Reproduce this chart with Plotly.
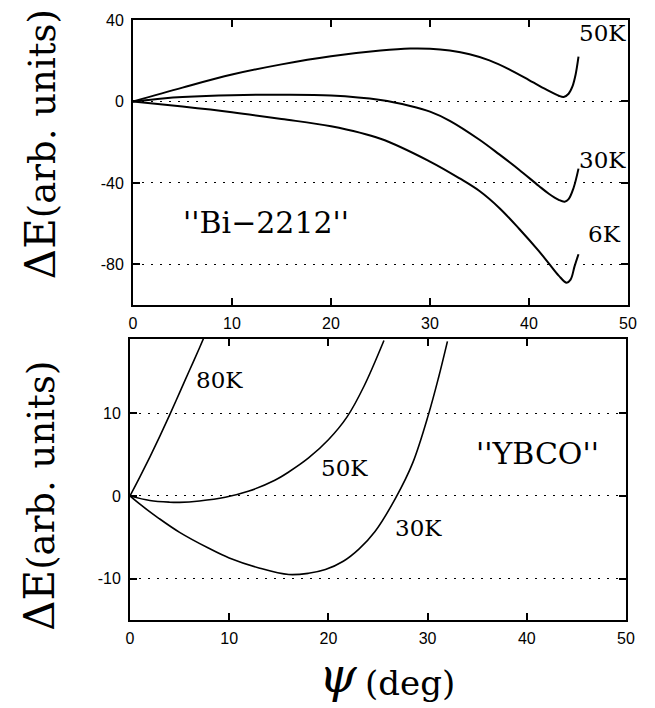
import plotly.graph_objects as go

# ---- Data: top panel ("Bi-2212") ----
bi_50k_x = [0, 5, 10, 15, 20, 25, 28, 30, 32, 34, 36, 38, 40, 41, 42, 43, 43.5, 44, 44.4, 44.7, 45]
bi_50k_y = [0, 6.8, 13.2, 18.2, 22.2, 25, 26, 25.9, 25.0, 23.2, 20.2, 15.8, 10.5, 7.8, 5.2, 2.8, 2.2, 3.8, 7.5, 13, 22]
bi_30k_x = [0, 3, 5, 10, 15, 20, 25, 28, 30, 32, 35, 37, 39, 41, 42, 43, 43.6, 44, 44.5, 45]
bi_30k_y = [0, 1.5, 2.2, 3.1, 3.3, 2.9, 0.7, -2.2, -5.0, -9.5, -18.8, -26, -33.5, -41.5, -45.3, -48.3, -49.2, -48, -42.5, -33]
bi_6k_x = [0, 5, 10, 15, 20, 25, 30, 33, 35, 37, 39, 41, 42, 43, 43.8, 44.2, 44.6, 45]
bi_6k_y = [0, -2.5, -5.3, -8.6, -12.2, -18.3, -29.5, -37.8, -44, -52.3, -62.5, -73.5, -79.5, -85.5, -89, -87.5, -81, -75]

# ---- Data: bottom panel ("YBCO") ----
yb_80k_x = [0, 1, 2, 3, 4, 5, 6, 7, 7.5]
yb_80k_y = [0, 2.3, 4.7, 7.2, 9.8, 12.5, 15.2, 17.9, 19.3]
yb_50k_x = [0, 2, 4, 5, 7, 9.6, 12, 14.6, 16, 18, 20, 21.9, 23.6, 25.6]
yb_50k_y = [0, -0.55, -0.75, -0.77, -0.6, -0.15, 0.6, 1.9, 2.9, 4.6, 6.8, 9.6, 13.3, 18.8]
yb_30k_x = [0, 1, 2.9, 5, 7.9, 10, 13, 16, 18, 19.7, 21.5, 23.1, 24.7, 26.8, 28.5, 30.1, 31.1, 32]
yb_30k_y = [0, -1, -2.7, -4.4, -6.3, -7.5, -8.7, -9.5, -9.35, -8.9, -7.9, -6.4, -4.3, -0.2, 4.0, 9.9, 14.3, 18.7]

x_ticks = [0, 10, 20, 30, 40, 50]
x_ticktext = ["0", "10", "20", "30", "40", "50"]
top_yticks = [40, 0, -40, -80]
top_yticktext = ["40", "0", "-40", "-80"]
bot_yticks = [10, 0, -10]
bot_yticktext = ["10", "0", "-10"]

fig = go.Figure()

line_top = dict(color="black", width=2, shape="spline", smoothing=1.0)
line_bot = dict(color="black", width=1.6, shape="spline", smoothing=1.0)

for xs, ys in [(bi_50k_x, bi_50k_y), (bi_30k_x, bi_30k_y), (bi_6k_x, bi_6k_y)]:
    fig.add_trace(go.Scatter(x=xs, y=ys, mode="lines", line=line_top,
                             xaxis="x", yaxis="y", showlegend=False, hoverinfo="skip"))
for xs, ys in [(yb_80k_x, yb_80k_y), (yb_50k_x, yb_50k_y), (yb_30k_x, yb_30k_y)]:
    fig.add_trace(go.Scatter(x=xs, y=ys, mode="lines", line=line_bot,
                             xaxis="x2", yaxis="y2", showlegend=False, hoverinfo="skip"))

tickfont = dict(family="Liberation Sans, Arial", size=16, color="black")
common_x = dict(range=[0, 50], tickvals=x_ticks, ticktext=x_ticktext, showgrid=False,
                zeroline=False, showline=True, linecolor="black", linewidth=2,
                mirror="ticks", ticks="inside", ticklen=7, tickwidth=1.5,
                tickcolor="black", tickfont=tickfont, ticklabelstandoff=3)
common_y = dict(showgrid=True, gridcolor="black", gridwidth=1, griddash="1.5px,7.5px",
                zeroline=False, showline=True, linecolor="black", linewidth=2,
                mirror="ticks", ticks="inside", ticklen=7, tickwidth=1.5,
                tickcolor="black", tickfont=tickfont, ticklabelstandoff=4)

L, R, T, B = 130, 27, 16, 88
W = 655 - L - R
H = 708 - T - B

fig.update_layout(
    width=655, height=708,
    margin=dict(l=L, r=R, t=T, b=B),
    paper_bgcolor="white", plot_bgcolor="white",
    xaxis=dict(common_x, domain=[3 / W, 1], anchor="y"),
    yaxis=dict(common_y, domain=[(620 - 303) / H, 1], anchor="x", range=[-100, 40],
               tickvals=top_yticks, ticktext=top_yticktext),
    xaxis2=dict(common_x, domain=[0, 496 / W], anchor="y2"),
    yaxis2=dict(common_y, domain=[0, (620 - 337) / H], anchor="x2", range=[-15, 19],
                tickvals=bot_yticks, ticktext=bot_yticktext),
)

serif = "DejaVu Serif"
ann = []
def lab(text, x, y, xref, yref, size):
    ann.append(dict(text=text, x=x, y=y, xref=xref, yref=yref, showarrow=False,
                    font=dict(family=serif, size=size, color="black"),
                    xanchor="center", yanchor="middle"))

lab("50K", 47.4, 33.5, "x", "y", 23)
lab("30K", 47.4, -28.5, "x", "y", 23)
lab("6K", 47.6, -65, "x", "y", 23)
lab("''Bi\u22122212''", 13.4, -59.6, "x", "y", 30)
lab("80K", 9.0, 14.0, "x2", "y2", 23)
lab("50K", 21.6, 3.4, "x2", "y2", 23)
lab("30K", 29.1, -3.9, "x2", "y2", 23)
lab("''YBCO''", 41.1, 5.1, "x2", "y2", 30)

ytitle = "<span style='font-size:42px'>\u0394E</span>(arb. units)"
for yc in [(620 - 141) / H, (620 - 495) / H]:
    ann.append(dict(text=ytitle, x=(40 - L) / W, y=yc, xref="paper", yref="paper",
                    showarrow=False, textangle=-90, xanchor="center", yanchor="middle",
                    font=dict(family=serif, size=37, color="black")))

ann.append(dict(text="<i>\u03c8</i>", x=(338 - L) / W, y=(620 - 706) / H, xref="paper",
                yref="paper", showarrow=False, xanchor="center", yanchor="bottom",
                font=dict(family="DejaVu Serif", size=48, color="black")))
ann.append(dict(text="(deg)", x=(410 - L) / W, y=(620 - 706) / H, xref="paper",
                yref="paper", showarrow=False, xanchor="center", yanchor="bottom",
                font=dict(family=serif, size=34, color="black")))

fig.update_layout(annotations=ann)
fig.write_html("out.html", config={"displayModeBar": False},
               post_script="document.body.style.margin='0';document.body.style.padding='0';")
